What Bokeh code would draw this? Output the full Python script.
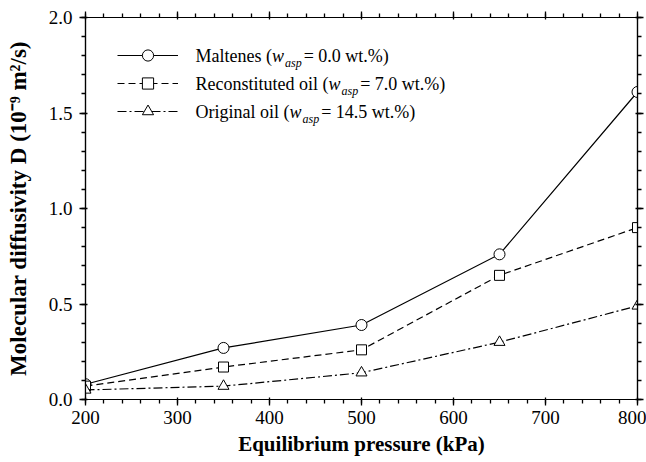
from bokeh.plotting import figure
from bokeh.models import (LinearAxis, Range1d, Legend, LegendItem, Label,
                          PrintfTickFormatter, CustomJSTickFormatter)
from bokeh.embed import file_html
from bokeh.resources import INLINE

# ---- data ----
pressure = [200, 350, 500, 650, 800]
maltenes = [0.08, 0.27, 0.39, 0.76, 1.61]
reconstituted = [0.07, 0.17, 0.26, 0.65, 0.90]
original = [0.05, 0.07, 0.14, 0.30, 0.49]

legend_prefix = ["Maltenes (", "Reconstituted oil (", "Original oil ("]
legend_suffix = ["= 0.0 wt.%)", "= 7.0 wt.%)", "= 14.5 wt.%)"]
# approximate Times advance widths (per 1000 em) of the prefixes, used only to place the pieces
prefix_em = [4249, 7389, 5222]

x_title = "Equilibrium pressure (kPa)"
y_title = "Molecular diffusivity D (10\u207b\u2079 m\u00b2/s)"

FONT = "Liberation Serif"
W, H = 646, 462
BL, BR, BT, BB = 85, 9, 17, 63
X0, X1, Y0, Y1 = 200, 800, 0, 2

p = figure(width=W, height=H, output_backend="svg", toolbar_location=None,
           x_range=Range1d(X0, X1), y_range=Range1d(Y0, Y1),
           min_border_left=BL, min_border_right=BR, min_border_top=BT, min_border_bottom=BB,
           x_axis_label=x_title, y_axis_label=y_title)
p.grid.visible = False
p.outline_line_color = "black"
p.outline_line_width = 1.2
p.background_fill_color = "white"
p.border_fill_color = "white"

p.add_layout(LinearAxis(), "above")
p.add_layout(LinearAxis(), "right")

for ax in p.axis:
    ax.axis_line_color = "black"
    ax.axis_line_width = 1.2
    ax.major_tick_line_color = "black"
    ax.minor_tick_line_color = "black"
    ax.major_tick_line_width = 1.3
    ax.minor_tick_line_width = 1.3
    ax.major_tick_out = 6
    ax.major_tick_in = 2
    ax.minor_tick_out = 4
    ax.minor_tick_in = 0
    ax.major_label_text_font = FONT
    ax.major_label_text_font_size = "19px"
    ax.major_label_text_color = "black"
    ax.axis_label_text_font = FONT
    ax.axis_label_text_font_size = "21px"
    ax.axis_label_text_font_style = "bold"
    ax.axis_label_text_color = "black"

for ax in p.xaxis:
    ax.ticker.desired_num_ticks = 7
    ax.ticker.num_minor_ticks = 5
for ax in p.yaxis:
    ax.ticker.desired_num_ticks = 5
    ax.ticker.num_minor_ticks = 5
    ax.formatter = PrintfTickFormatter(format="%.1f")

# top/right axes: ticks only
for ax in (p.above[0], p.right[0]):
    ax.formatter = CustomJSTickFormatter(code="return ''")
    ax.major_label_standoff = 0

p.xaxis[0].major_label_standoff = 4
p.xaxis[0].axis_label_standoff = 10
p.yaxis[0].major_label_standoff = 7
p.yaxis[0].axis_label_standoff = 15
p.yaxis[0].axis_label_text_font_size = "23px"

LW = 1.2
r1 = p.line(pressure, maltenes, line_color="black", line_width=LW)
s1 = p.scatter(pressure, maltenes, marker="circle", size=11, line_color="black", fill_color="white", line_width=1)
r2 = p.line(pressure, reconstituted, line_color="black", line_width=LW, line_dash="7 4")
s2 = p.scatter(pressure, reconstituted, marker="square", size=10, line_color="black", fill_color="white", line_width=1)
r3 = p.line(pressure, original, line_color="black", line_width=LW, line_dash="9 3 2 3")
s3 = p.scatter(pressure, original, marker="triangle", size=11, line_color="black", fill_color="white", line_width=1)

frame_w = W - BL - BR
frame_h = H - BT - BB
ROW0 = 38   # px from frame top to first legend row centre
ROWH = 28

legend = Legend(items=[LegendItem(label=" ", renderers=[r1, s1]),
                       LegendItem(label=" ", renderers=[r2, s2]),
                       LegendItem(label=" ", renderers=[r3, s3])],
                location=(32, frame_h - (ROW0 - ROWH // 2) - 3 * ROWH),
                glyph_width=61, glyph_height=ROWH, label_height=ROWH, label_width=0,
                label_standoff=0, label_text_font_size="1px", spacing=0, padding=0, margin=0,
                border_line_color=None, background_fill_alpha=0)
p.add_layout(legend, "center")


def px2x(px):
    return X0 + px * (X1 - X0) / frame_w


def py2y(py):
    return Y1 - py * (Y1 - Y0) / frame_h


# legend texts with subscripts
FS = 18
SUB = 12
text_left = 110  # px from frame left
for i in range(3):
    yc = ROW0 + i * ROWH
    x_w = text_left + prefix_em[i] * FS / 1000
    x_sub = x_w + 667 * FS / 1000 + 1
    x_rest = x_sub + 1389 * SUB / 1000 + 2
    common = dict(text_font=FONT, text_color="black", text_baseline="middle", text_align="left")
    p.add_layout(Label(x=px2x(text_left), y=py2y(yc), text=legend_prefix[i], text_font_size=f"{FS}px", **common))
    p.add_layout(Label(x=px2x(x_w), y=py2y(yc), text="w", text_font_size=f"{FS}px", text_font_style="italic", **common))
    p.add_layout(Label(x=px2x(x_sub), y=py2y(yc + 7), text="asp", text_font_size=f"{SUB}px", text_font_style="italic", **common))
    p.add_layout(Label(x=px2x(x_rest), y=py2y(yc), text=legend_suffix[i], text_font_size=f"{FS}px", **common))

open("out.html", "w").write(file_html(p, INLINE))
